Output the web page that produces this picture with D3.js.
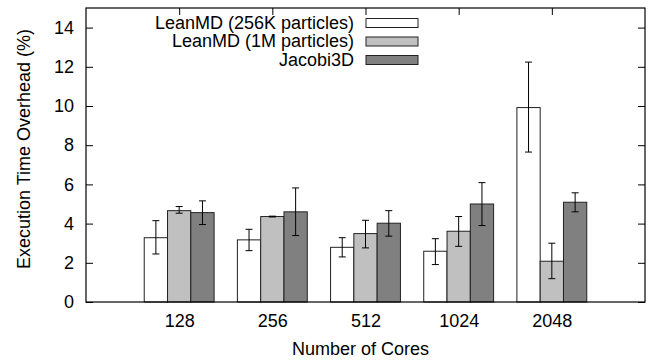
<!DOCTYPE html>
<html>
<head>
<meta charset="utf-8">
<script src="https://cdn.jsdelivr.net/npm/d3@7"></script>
<style>
  body { margin: 0; background: #fff; }
  text { font-family: "Liberation Sans", Arial, sans-serif; font-size: 18px; fill: #000; }
</style>
</head>
<body>
<div id="chart"></div>
<script>
// categories and series
var cores = ["128", "256", "512", "1024", "2048"];
var seriesNames = ["LeanMD (256K particles)", "LeanMD (1M particles)", "Jacobi3D"];
var seriesColors = ["#ffffff", "#c0c0c0", "#808080"];

// mean overhead (%)
var lean256k = [3.28, 3.17, 2.79, 2.59, 9.92];
var lean1m = [4.66, 4.36, 3.49, 3.61, 2.08];
var jacobi = [4.56, 4.60, 4.02, 5.00, 5.09];

// error bar low / high
var lean256kLow = [2.45, 2.62, 2.30, 1.91, 7.65];
var lean256kHigh = [4.15, 3.71, 3.28, 3.23, 12.24];
var lean1mLow = [4.53, 4.34, 2.76, 2.84, 1.19];
var lean1mHigh = [4.87, 4.38, 4.17, 4.36, 3.00];
var jacobiLow = [3.95, 3.39, 3.36, 3.90, 4.60];
var jacobiHigh = [5.16, 5.82, 4.66, 6.09, 5.57];

var yTicks = [0, 2, 4, 6, 8, 10, 12, 14];

var series = [
  { name: seriesNames[0], color: seriesColors[0], vals: lean256k, lo: lean256kLow, hi: lean256kHigh },
  { name: seriesNames[1], color: seriesColors[1], vals: lean1m, lo: lean1mLow, hi: lean1mHigh },
  { name: seriesNames[2], color: seriesColors[2], vals: jacobi, lo: jacobiLow, hi: jacobiHigh }
];

var W = 655, H = 362;
var margin = { top: 8, right: 10, bottom: 60, left: 86 };
var width = W - margin.left - margin.right;
var height = H - margin.top - margin.bottom;
var font = "Liberation Sans, Arial, sans-serif";

var svg = d3.select("#chart").append("svg")
  .attr("width", W).attr("height", H);
var g = svg.append("g")
  .attr("transform", "translate(" + margin.left + "," + margin.top + ")");

// gnuplot-like numeric x: categories at 0..4, range -1..5
var x = d3.scaleLinear().domain([-1, cores.length]).range([0, width]);
var y = d3.scaleLinear().domain([0, 15]).range([height, 0]);
var barW = 0.25;

// bars
series.forEach(function (s, si) {
  var off = (si - 1) * barW;
  var grp = g.append("g");
  grp.selectAll("rect")
    .data(s.vals)
    .enter()
    .append("rect")
    .attr("x", (d, i) => x(i + off - barW / 2))
    .attr("y", (d) => y(d))
    .attr("width", x(barW) - x(0))
    .attr("height", (d) => y(0) - y(d))
    .attr("fill", s.color)
    .attr("stroke", "#222")
    .attr("stroke-width", 1);

  // error bars
  s.vals.forEach(function (d, i) {
    var cx = x(i + off);
    var eb = g.append("g").attr("stroke", "#000").attr("stroke-width", 1);
    eb.append("line").attr("x1", cx).attr("x2", cx).attr("y1", y(s.lo[i])).attr("y2", y(s.hi[i]));
    eb.append("line").attr("x1", cx - 3.5).attr("x2", cx + 3.5).attr("y1", y(s.lo[i])).attr("y2", y(s.lo[i]));
    eb.append("line").attr("x1", cx - 3.5).attr("x2", cx + 3.5).attr("y1", y(s.hi[i])).attr("y2", y(s.hi[i]));
  });
});

// axes: left / right inward ticks
g.append("g")
  .call(d3.axisLeft(y).tickValues(yTicks).tickSizeInner(-7).tickSizeOuter(0).tickPadding(12))
  .call((a) => a.select(".domain").remove())
  .selectAll("text").style("font-size", "18px").style("font-family", font);

g.append("g")
  .attr("transform", "translate(" + width + ",0)")
  .call(d3.axisRight(y).tickValues(yTicks).tickSizeInner(-7).tickSizeOuter(0).tickFormat(""))
  .call((a) => a.select(".domain").remove());

// top ticks at category positions
g.append("g")
  .call(d3.axisTop(x).tickValues(d3.range(cores.length)).tickSizeInner(-7).tickSizeOuter(0).tickFormat(""))
  .call((a) => a.select(".domain").remove());

// bottom labels
g.append("g")
  .attr("transform", "translate(0," + height + ")")
  .call(d3.axisBottom(x).tickValues(d3.range(cores.length)).tickSize(0).tickPadding(12)
    .tickFormat((d) => cores[d]))
  .call((a) => a.select(".domain").remove())
  .selectAll("text").style("font-size", "18px").style("font-family", font);

// frame
g.append("rect")
  .attr("x", 0).attr("y", 0).attr("width", width).attr("height", height)
  .attr("fill", "none").attr("stroke", "#000").attr("stroke-width", 1.2);

// axis titles
svg.append("text")
  .attr("x", margin.left + width / 2 - 5)
  .attr("y", 355)
  .attr("text-anchor", "middle")
  .text("Number of Cores");

svg.append("text")
  .attr("transform", "translate(30," + (margin.top + height / 2 - 6) + ") rotate(-90)")
  .attr("text-anchor", "middle")
  .text("Execution Time Overhead (%)");

// legend
var legend = svg.selectAll(".legend")
  .data(series)
  .enter()
  .append("g")
  .attr("class", "legend")
  .attr("transform", (d, i) => "translate(0," + (23 + i * 18.5) + ")");

legend.append("text")
  .attr("x", 354)
  .attr("y", 5.5)
  .attr("text-anchor", "end")
  .text((d) => d.name);

legend.append("rect")
  .attr("x", 366)
  .attr("y", -4.5)
  .attr("width", 52)
  .attr("height", 9)
  .attr("fill", (d) => d.color)
  .attr("stroke", "#222")
  .attr("stroke-width", 1);
</script>
</body>
</html>
